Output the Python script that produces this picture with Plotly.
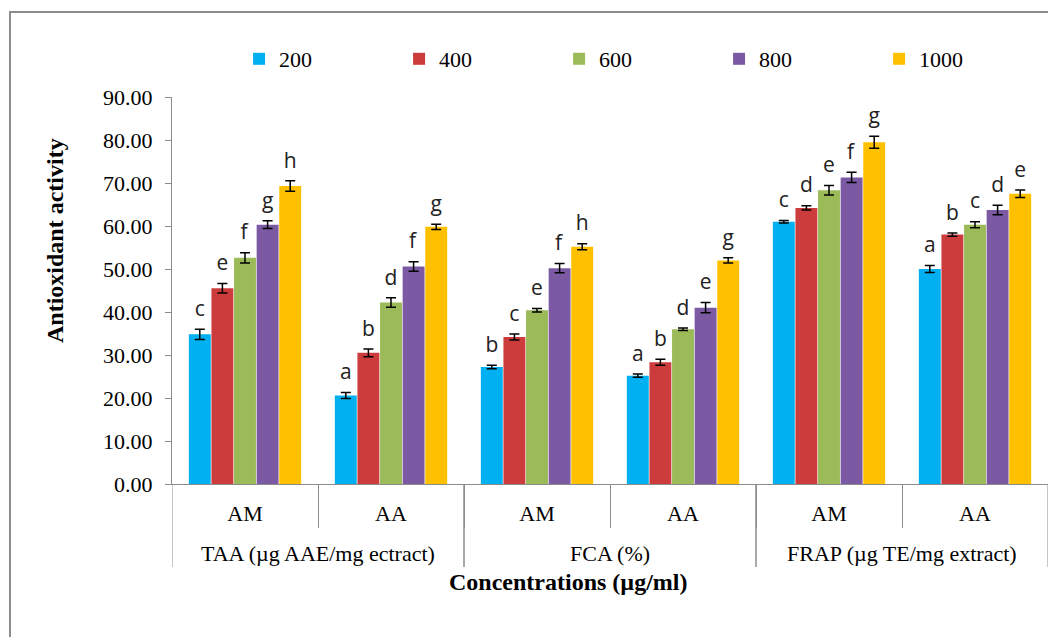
import plotly.graph_objects as go

groups = ["TAA (µg AAE/mg ectract)", "TAA (µg AAE/mg ectract)",
          "FCA (%)", "FCA (%)",
          "FRAP (µg TE/mg extract)", "FRAP (µg TE/mg extract)"]
extracts = ["AM", "AA", "AM", "AA", "AM", "AA"]

concentrations = ["200", "400", "600", "800", "1000"]

val_200 = [34.8, 20.6, 27.2, 25.2, 61.0, 50.0]
val_400 = [45.5, 30.5, 34.2, 28.3, 64.2, 58.0]
val_600 = [52.6, 42.2, 40.4, 36.0, 68.3, 60.3]
val_800 = [60.3, 50.6, 50.2, 41.0, 71.3, 63.7]
val_1000 = [69.3, 59.8, 55.2, 52.0, 79.5, 67.5]

err_200 = [1.2, 0.7, 0.4, 0.4, 0.3, 0.8]
err_400 = [1.1, 0.9, 0.7, 0.7, 0.5, 0.4]
err_600 = [1.2, 1.1, 0.4, 0.3, 1.1, 0.7]
err_800 = [0.9, 1.1, 1.1, 1.2, 1.2, 1.1]
err_1000 = [1.2, 0.6, 0.7, 0.6, 1.4, 0.9]

let_200 = ["c", "a", "b", "a", "c", "a"]
let_400 = ["e", "b", "c", "b", "d", "b"]
let_600 = ["f", "d", "e", "d", "e", "c"]
let_800 = ["g", "f", "f", "e", "f", "d"]
let_1000 = ["h", "g", "h", "g", "g", "e"]

values = [val_200, val_400, val_600, val_800, val_1000]
errors = [err_200, err_400, err_600, err_800, err_1000]
letters = [let_200, let_400, let_600, let_800, let_1000]
colors = ["#00B0F0", "#CC3C3C", "#9BBB59", "#7B5AA3", "#FFC000"]

SERIF = "Liberation Serif"
AXIS_GRAY = "#8C8C8C"
PAGE_OFFSET = 8  # default body margin of the html page
xpos = list(range(len(extracts)))

fig = go.Figure()
for name, v, e, c in zip(concentrations, values, errors, colors):
    fig.add_trace(go.Bar(
        x=xpos, y=v, name=name, offsetgroup=name,
        marker=dict(color=c, line=dict(width=0)),
        error_y=dict(type="data", array=e, visible=True,
                     color="black", thickness=1.5, width=5),
    ))

label_gap = 1.0
for name, v, e, l in zip(concentrations, values, errors, letters):
    fig.add_trace(go.Bar(
        x=xpos, y=[label_gap] * len(v), base=[a + b for a, b in zip(v, e)],
        offsetgroup=name, showlegend=False, hoverinfo="skip",
        marker=dict(color="rgba(0,0,0,0)", line=dict(width=0)),
        text=l, textposition="outside", constraintext="none", cliponaxis=False,
        textfont=dict(family="Open Sans", size=21, color="#222222"),
    ))

fig.update_layout(
    width=1056 - PAGE_OFFSET, height=637 - PAGE_OFFSET,
    margin=dict(l=172 - PAGE_OFFSET, r=8, t=97 - PAGE_OFFSET, b=153, autoexpand=False),
    paper_bgcolor="white", plot_bgcolor="white",
    barmode="group", bargap=0.226, bargroupgap=0.03,
    showlegend=True,
    legend=dict(orientation="h", x=0.072 + 4 / 876, y=(484 - 59) / 387,
                xanchor="left", yanchor="middle",
                entrywidth=115, entrywidthmode="pixels",
                font=dict(family=SERIF, size=22, color="black"),
                itemwidth=30),
    font=dict(family=SERIF, size=22, color="black"),
)

fig.update_yaxes(range=[0, 90], dtick=10, tickformat=".2f",
                 ticks="outside", ticklen=6, tickcolor=AXIS_GRAY,
                 ticklabelstandoff=8,
                 showline=True, linecolor=AXIS_GRAY, linewidth=1,
                 showgrid=False, zeroline=False,
                 tickfont=dict(family=SERIF, size=22, color="black"))

boundaries = [i + 0.5 for i in xpos[:-1]]
fig.update_xaxes(range=[xpos[0] - 0.5, xpos[-1] + 0.5],
                 tickmode="array", tickvals=xpos, ticktext=extracts,
                 ticks="", ticklabelstandoff=10,
                 showline=True, linecolor=AXIS_GRAY, linewidth=1,
                 showgrid=False, zeroline=False,
                 minor=dict(tickmode="array", tickvals=boundaries, ticks="outside",
                            ticklen=43, tickcolor=AXIS_GRAY, tickwidth=1, showgrid=False),
                 tickfont=dict(family=SERIF, size=22, color="black"))

# group labels and dividers of the two-level category axis
group_names = list(dict.fromkeys(groups))
for g in group_names:
    idx = [i for i, gg in enumerate(groups) if gg == g]
    fig.add_annotation(text=g, xref="x", yref="paper",
                       x=sum(idx) / len(idx), y=-(553 - 484) / 387,
                       xanchor="center", yanchor="middle", showarrow=False,
                       font=dict(family=SERIF, size=22, color="black"))
    for b in (idx[0] - 0.5, idx[-1] + 0.5):
        fig.add_shape(type="line", xref="x", yref="paper", x0=b, x1=b,
                      y0=0, y1=-(567 - 484) / 387,
                      line=dict(color=AXIS_GRAY, width=1))

fig.add_annotation(text="<b>Antioxidant activity</b>", textangle=-90,
                   xref="paper", yref="paper", x=(55 - 172) / 876, y=(484 - 241) / 387,
                   xanchor="center", yanchor="middle", showarrow=False,
                   font=dict(family=SERIF, size=24, color="black"))
fig.add_annotation(text="<b>Concentrations (µg/ml)</b>",
                   xref="paper", yref="paper", x=(568 - 172) / 876, y=(484 - 582) / 387,
                   xanchor="center", yanchor="middle", showarrow=False,
                   font=dict(family=SERIF, size=24, color="black"))

fig.add_shape(type="rect", xref="paper", yref="paper",
              x0=(10 - 172) / 876, x1=1.2, y0=-0.6, y1=(484 - 12) / 387,
              line=dict(color=AXIS_GRAY, width=2), fillcolor="rgba(0,0,0,0)", layer="below")

fig.write_html("out.html")
